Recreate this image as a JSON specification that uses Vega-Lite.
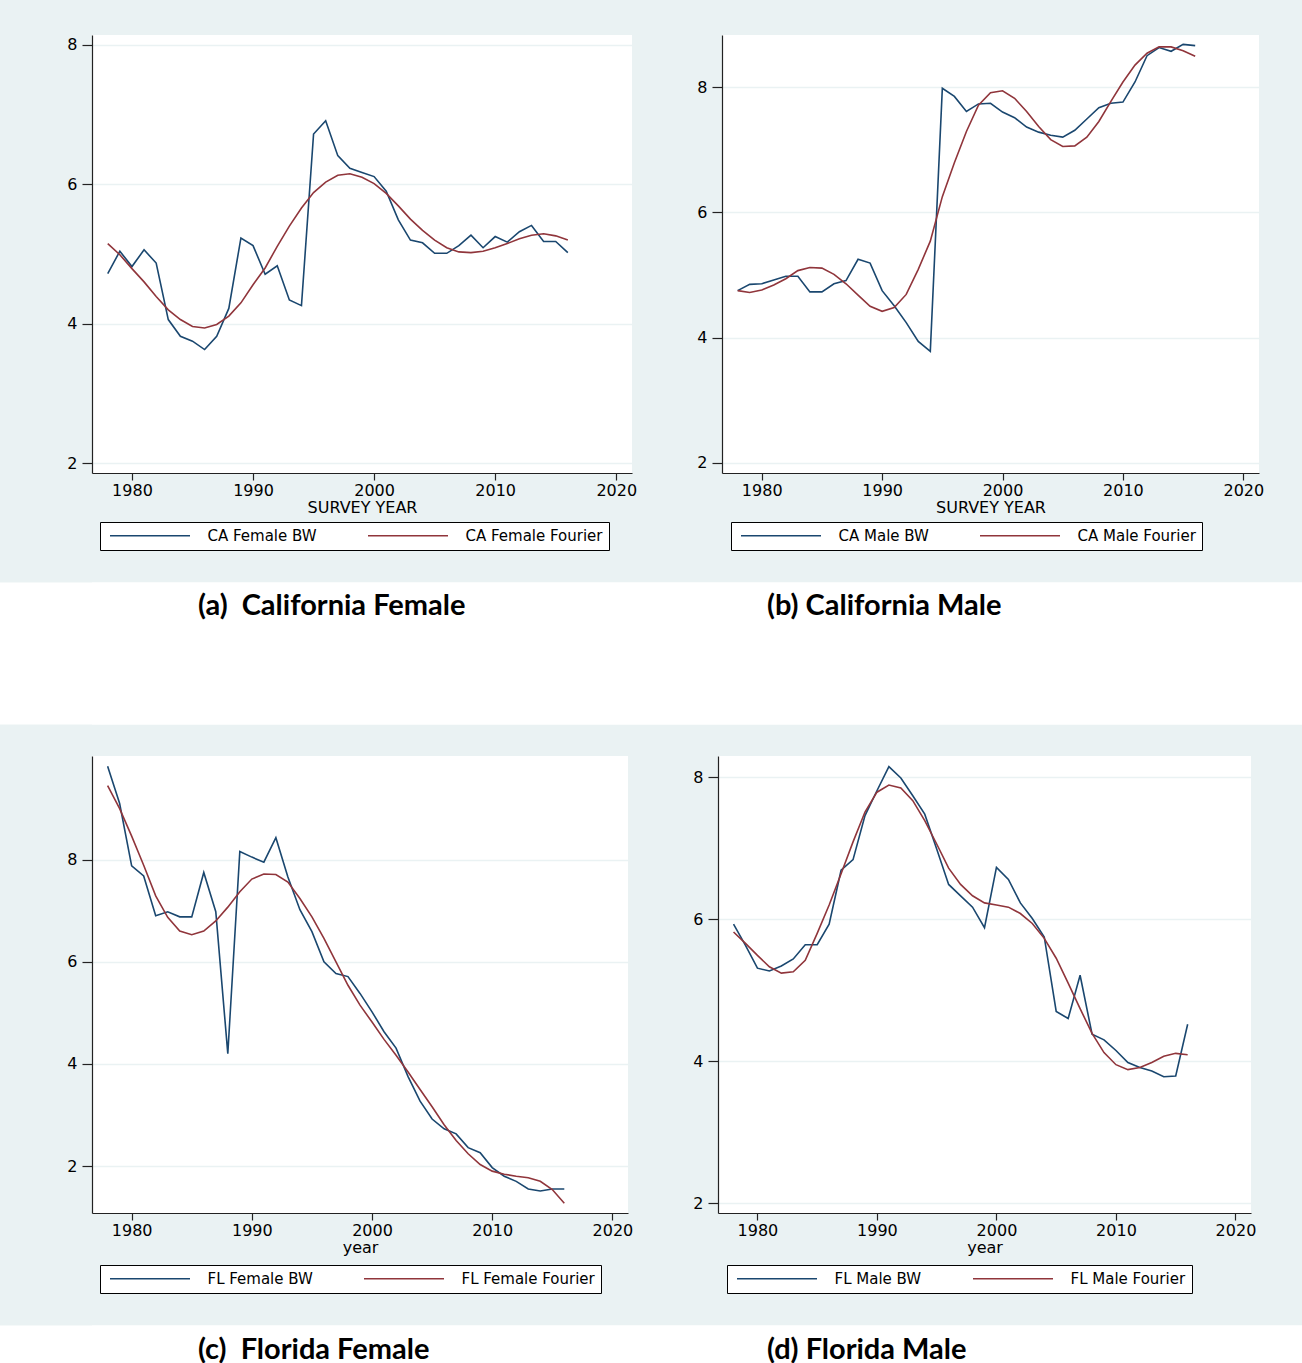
{
  "$schema": "https://vega.github.io/schema/vega-lite/v6.json",
  "background": "#EAF2F3",
  "padding": {"top": 35, "left": 0, "right": 0, "bottom": 0},
  "columns": 1,
  "align": "none",
  "spacing": 31.5,
  "resolve": {"scale": {"color": "independent"}, "legend": {"color": "independent"}},
  "config": {
    "font": "DejaVu Sans",
    "view": {"fill": "white", "stroke": null},
    "axis": {
      "domainColor": "#222", "domainWidth": 1.2,
      "tickColor": "#222", "tickWidth": 1.2,
      "labelFont": "DejaVu Sans", "labelFontSize": 16, "labelColor": "#000",
      "titleFont": "DejaVu Sans", "titleFontSize": 16, "titleFontWeight": "normal", "titleColor": "#000",
      "gridColor": "#EAF2F3", "gridWidth": 1.5, "labelFlush": false, "labelOverlap": false
    },
    "axisX": {"tickSize": 7, "labelPadding": 2, "titlePadding": 1, "grid": false},
    "axisY": {"tickSize": 10, "labelPadding": 5, "grid": true, "minExtent": 92},
    "legend": {
      "labelFont": "DejaVu Sans", "labelFontSize": 15, "labelColor": "#000",
      "symbolSize": 100, "symbolStrokeWidth": 1.6,
      "symbolOffset": 36.5, "labelOffset": 50, "columnPadding": 47, "padding": 6,
      "strokeColor": "#000", "fillColor": "white", "cornerRadius": 0, "rowPadding": 0,
      "labelLimit": 300
    }
  },
  "datasets": {
    "caf": [
      {"year": 1978, "CA Female BW": 4.72, "CA Female Fourier": 5.15},
      {"year": 1979, "CA Female BW": 5.04, "CA Female Fourier": 4.99},
      {"year": 1980, "CA Female BW": 4.82, "CA Female Fourier": 4.79},
      {"year": 1981, "CA Female BW": 5.06, "CA Female Fourier": 4.60},
      {"year": 1982, "CA Female BW": 4.87, "CA Female Fourier": 4.39},
      {"year": 1983, "CA Female BW": 4.06, "CA Female Fourier": 4.20},
      {"year": 1984, "CA Female BW": 3.82, "CA Female Fourier": 4.06},
      {"year": 1985, "CA Female BW": 3.75, "CA Female Fourier": 3.96},
      {"year": 1986, "CA Female BW": 3.63, "CA Female Fourier": 3.94},
      {"year": 1987, "CA Female BW": 3.82, "CA Female Fourier": 3.99},
      {"year": 1988, "CA Female BW": 4.22, "CA Female Fourier": 4.11},
      {"year": 1989, "CA Female BW": 5.23, "CA Female Fourier": 4.30},
      {"year": 1990, "CA Female BW": 5.12, "CA Female Fourier": 4.56},
      {"year": 1991, "CA Female BW": 4.71, "CA Female Fourier": 4.80},
      {"year": 1992, "CA Female BW": 4.83, "CA Female Fourier": 5.11},
      {"year": 1993, "CA Female BW": 4.34, "CA Female Fourier": 5.40},
      {"year": 1994, "CA Female BW": 4.26, "CA Female Fourier": 5.66},
      {"year": 1995, "CA Female BW": 6.72, "CA Female Fourier": 5.88},
      {"year": 1996, "CA Female BW": 6.91, "CA Female Fourier": 6.03},
      {"year": 1997, "CA Female BW": 6.41, "CA Female Fourier": 6.13},
      {"year": 1998, "CA Female BW": 6.23, "CA Female Fourier": 6.15},
      {"year": 1999, "CA Female BW": 6.17, "CA Female Fourier": 6.10},
      {"year": 2000, "CA Female BW": 6.11, "CA Female Fourier": 6.01},
      {"year": 2001, "CA Female BW": 5.90, "CA Female Fourier": 5.87},
      {"year": 2002, "CA Female BW": 5.49, "CA Female Fourier": 5.69},
      {"year": 2003, "CA Female BW": 5.20, "CA Female Fourier": 5.50},
      {"year": 2004, "CA Female BW": 5.16, "CA Female Fourier": 5.34},
      {"year": 2005, "CA Female BW": 5.01, "CA Female Fourier": 5.20},
      {"year": 2006, "CA Female BW": 5.01, "CA Female Fourier": 5.09},
      {"year": 2007, "CA Female BW": 5.12, "CA Female Fourier": 5.03},
      {"year": 2008, "CA Female BW": 5.27, "CA Female Fourier": 5.02},
      {"year": 2009, "CA Female BW": 5.09, "CA Female Fourier": 5.04},
      {"year": 2010, "CA Female BW": 5.25, "CA Female Fourier": 5.09},
      {"year": 2011, "CA Female BW": 5.17, "CA Female Fourier": 5.15},
      {"year": 2012, "CA Female BW": 5.32, "CA Female Fourier": 5.22},
      {"year": 2013, "CA Female BW": 5.41, "CA Female Fourier": 5.27},
      {"year": 2014, "CA Female BW": 5.18, "CA Female Fourier": 5.29},
      {"year": 2015, "CA Female BW": 5.18, "CA Female Fourier": 5.26},
      {"year": 2016, "CA Female BW": 5.02, "CA Female Fourier": 5.20}
    ],
    "cam": [
      {"year": 1978, "CA Male BW": 4.75, "CA Male Fourier": 4.75},
      {"year": 1979, "CA Male BW": 4.85, "CA Male Fourier": 4.72},
      {"year": 1980, "CA Male BW": 4.86, "CA Male Fourier": 4.76},
      {"year": 1981, "CA Male BW": 4.92, "CA Male Fourier": 4.84},
      {"year": 1982, "CA Male BW": 4.98, "CA Male Fourier": 4.94},
      {"year": 1983, "CA Male BW": 4.98, "CA Male Fourier": 5.07},
      {"year": 1984, "CA Male BW": 4.73, "CA Male Fourier": 5.12},
      {"year": 1985, "CA Male BW": 4.73, "CA Male Fourier": 5.11},
      {"year": 1986, "CA Male BW": 4.86, "CA Male Fourier": 5.01},
      {"year": 1987, "CA Male BW": 4.91, "CA Male Fourier": 4.86},
      {"year": 1988, "CA Male BW": 5.25, "CA Male Fourier": 4.68},
      {"year": 1989, "CA Male BW": 5.19, "CA Male Fourier": 4.50},
      {"year": 1990, "CA Male BW": 4.75, "CA Male Fourier": 4.42},
      {"year": 1991, "CA Male BW": 4.51, "CA Male Fourier": 4.48},
      {"year": 1992, "CA Male BW": 4.24, "CA Male Fourier": 4.69},
      {"year": 1993, "CA Male BW": 3.94, "CA Male Fourier": 5.09},
      {"year": 1994, "CA Male BW": 3.78, "CA Male Fourier": 5.54},
      {"year": 1995, "CA Male BW": 7.98, "CA Male Fourier": 6.25},
      {"year": 1996, "CA Male BW": 7.85, "CA Male Fourier": 6.79},
      {"year": 1997, "CA Male BW": 7.61, "CA Male Fourier": 7.29},
      {"year": 1998, "CA Male BW": 7.73, "CA Male Fourier": 7.71},
      {"year": 1999, "CA Male BW": 7.74, "CA Male Fourier": 7.91},
      {"year": 2000, "CA Male BW": 7.60, "CA Male Fourier": 7.94},
      {"year": 2001, "CA Male BW": 7.51, "CA Male Fourier": 7.82},
      {"year": 2002, "CA Male BW": 7.36, "CA Male Fourier": 7.61},
      {"year": 2003, "CA Male BW": 7.28, "CA Male Fourier": 7.37},
      {"year": 2004, "CA Male BW": 7.23, "CA Male Fourier": 7.16},
      {"year": 2005, "CA Male BW": 7.20, "CA Male Fourier": 7.05},
      {"year": 2006, "CA Male BW": 7.31, "CA Male Fourier": 7.06},
      {"year": 2007, "CA Male BW": 7.49, "CA Male Fourier": 7.20},
      {"year": 2008, "CA Male BW": 7.67, "CA Male Fourier": 7.45},
      {"year": 2009, "CA Male BW": 7.74, "CA Male Fourier": 7.77},
      {"year": 2010, "CA Male BW": 7.76, "CA Male Fourier": 8.08},
      {"year": 2011, "CA Male BW": 8.08, "CA Male Fourier": 8.35},
      {"year": 2012, "CA Male BW": 8.50, "CA Male Fourier": 8.54},
      {"year": 2013, "CA Male BW": 8.63, "CA Male Fourier": 8.64},
      {"year": 2014, "CA Male BW": 8.57, "CA Male Fourier": 8.64},
      {"year": 2015, "CA Male BW": 8.68, "CA Male Fourier": 8.58},
      {"year": 2016, "CA Male BW": 8.66, "CA Male Fourier": 8.49}
    ],
    "flf": [
      {"year": 1978, "FL Female BW": 9.83, "FL Female Fourier": 9.45},
      {"year": 1979, "FL Female BW": 9.10, "FL Female Fourier": 9.00},
      {"year": 1980, "FL Female BW": 7.88, "FL Female Fourier": 8.46},
      {"year": 1981, "FL Female BW": 7.68, "FL Female Fourier": 7.89},
      {"year": 1982, "FL Female BW": 6.90, "FL Female Fourier": 7.29},
      {"year": 1983, "FL Female BW": 6.98, "FL Female Fourier": 6.87},
      {"year": 1984, "FL Female BW": 6.88, "FL Female Fourier": 6.60},
      {"year": 1985, "FL Female BW": 6.88, "FL Female Fourier": 6.53},
      {"year": 1986, "FL Female BW": 7.75, "FL Female Fourier": 6.60},
      {"year": 1987, "FL Female BW": 6.98, "FL Female Fourier": 6.80},
      {"year": 1988, "FL Female BW": 4.20, "FL Female Fourier": 7.07},
      {"year": 1989, "FL Female BW": 8.16, "FL Female Fourier": 7.37},
      {"year": 1990, "FL Female BW": 8.05, "FL Female Fourier": 7.62},
      {"year": 1991, "FL Female BW": 7.95, "FL Female Fourier": 7.72},
      {"year": 1992, "FL Female BW": 8.43, "FL Female Fourier": 7.71},
      {"year": 1993, "FL Female BW": 7.66, "FL Female Fourier": 7.56},
      {"year": 1994, "FL Female BW": 7.02, "FL Female Fourier": 7.24},
      {"year": 1995, "FL Female BW": 6.59, "FL Female Fourier": 6.88},
      {"year": 1996, "FL Female BW": 6.00, "FL Female Fourier": 6.46},
      {"year": 1997, "FL Female BW": 5.77, "FL Female Fourier": 6.00},
      {"year": 1998, "FL Female BW": 5.71, "FL Female Fourier": 5.54},
      {"year": 1999, "FL Female BW": 5.38, "FL Female Fourier": 5.15},
      {"year": 2000, "FL Female BW": 5.02, "FL Female Fourier": 4.82},
      {"year": 2001, "FL Female BW": 4.63, "FL Female Fourier": 4.48},
      {"year": 2002, "FL Female BW": 4.31, "FL Female Fourier": 4.17},
      {"year": 2003, "FL Female BW": 3.75, "FL Female Fourier": 3.84},
      {"year": 2004, "FL Female BW": 3.27, "FL Female Fourier": 3.50},
      {"year": 2005, "FL Female BW": 2.92, "FL Female Fourier": 3.16},
      {"year": 2006, "FL Female BW": 2.73, "FL Female Fourier": 2.81},
      {"year": 2007, "FL Female BW": 2.63, "FL Female Fourier": 2.50},
      {"year": 2008, "FL Female BW": 2.36, "FL Female Fourier": 2.24},
      {"year": 2009, "FL Female BW": 2.26, "FL Female Fourier": 2.03},
      {"year": 2010, "FL Female BW": 1.97, "FL Female Fourier": 1.90},
      {"year": 2011, "FL Female BW": 1.80, "FL Female Fourier": 1.84},
      {"year": 2012, "FL Female BW": 1.70, "FL Female Fourier": 1.80},
      {"year": 2013, "FL Female BW": 1.55, "FL Female Fourier": 1.77},
      {"year": 2014, "FL Female BW": 1.51, "FL Female Fourier": 1.70},
      {"year": 2015, "FL Female BW": 1.55, "FL Female Fourier": 1.54},
      {"year": 2016, "FL Female BW": 1.55, "FL Female Fourier": 1.27}
    ],
    "flm": [
      {"year": 1978, "FL Male BW": 5.93, "FL Male Fourier": 5.82},
      {"year": 1979, "FL Male BW": 5.63, "FL Male Fourier": 5.66},
      {"year": 1980, "FL Male BW": 5.31, "FL Male Fourier": 5.49},
      {"year": 1981, "FL Male BW": 5.27, "FL Male Fourier": 5.33},
      {"year": 1982, "FL Male BW": 5.34, "FL Male Fourier": 5.24},
      {"year": 1983, "FL Male BW": 5.44, "FL Male Fourier": 5.26},
      {"year": 1984, "FL Male BW": 5.64, "FL Male Fourier": 5.42},
      {"year": 1985, "FL Male BW": 5.64, "FL Male Fourier": 5.80},
      {"year": 1986, "FL Male BW": 5.93, "FL Male Fourier": 6.20},
      {"year": 1987, "FL Male BW": 6.69, "FL Male Fourier": 6.64},
      {"year": 1988, "FL Male BW": 6.84, "FL Male Fourier": 7.09},
      {"year": 1989, "FL Male BW": 7.46, "FL Male Fourier": 7.51},
      {"year": 1990, "FL Male BW": 7.81, "FL Male Fourier": 7.79},
      {"year": 1991, "FL Male BW": 8.15, "FL Male Fourier": 7.89},
      {"year": 1992, "FL Male BW": 7.99, "FL Male Fourier": 7.85},
      {"year": 1993, "FL Male BW": 7.74, "FL Male Fourier": 7.67},
      {"year": 1994, "FL Male BW": 7.48, "FL Male Fourier": 7.39},
      {"year": 1995, "FL Male BW": 6.99, "FL Male Fourier": 7.06},
      {"year": 1996, "FL Male BW": 6.49, "FL Male Fourier": 6.72},
      {"year": 1997, "FL Male BW": 6.33, "FL Male Fourier": 6.49},
      {"year": 1998, "FL Male BW": 6.17, "FL Male Fourier": 6.33},
      {"year": 1999, "FL Male BW": 5.88, "FL Male Fourier": 6.23},
      {"year": 2000, "FL Male BW": 6.73, "FL Male Fourier": 6.20},
      {"year": 2001, "FL Male BW": 6.56, "FL Male Fourier": 6.17},
      {"year": 2002, "FL Male BW": 6.23, "FL Male Fourier": 6.08},
      {"year": 2003, "FL Male BW": 6.01, "FL Male Fourier": 5.94},
      {"year": 2004, "FL Male BW": 5.75, "FL Male Fourier": 5.73},
      {"year": 2005, "FL Male BW": 4.70, "FL Male Fourier": 5.45},
      {"year": 2006, "FL Male BW": 4.60, "FL Male Fourier": 5.10},
      {"year": 2007, "FL Male BW": 5.21, "FL Male Fourier": 4.74},
      {"year": 2008, "FL Male BW": 4.38, "FL Male Fourier": 4.39},
      {"year": 2009, "FL Male BW": 4.30, "FL Male Fourier": 4.12},
      {"year": 2010, "FL Male BW": 4.15, "FL Male Fourier": 3.95},
      {"year": 2011, "FL Male BW": 3.98, "FL Male Fourier": 3.88},
      {"year": 2012, "FL Male BW": 3.91, "FL Male Fourier": 3.91},
      {"year": 2013, "FL Male BW": 3.86, "FL Male Fourier": 3.98},
      {"year": 2014, "FL Male BW": 3.78, "FL Male Fourier": 4.07},
      {"year": 2015, "FL Male BW": 3.79, "FL Male Fourier": 4.11},
      {"year": 2016, "FL Male BW": 4.52, "FL Male Fourier": 4.09}
    ],
    "cap1": [{"c": "(a)\u00a0 California Female", "d": "(b) California Male"}],
    "cap2": [{"c": "(c)\u00a0 Florida Female", "d": "(d) Florida Male"}]
  },
  "concat": [
    {
      "hconcat": [
        {
          "width": 540, "height": 438,
          "data": {"name": "caf"},
          "transform": [{"fold": ["CA Female BW", "CA Female Fourier"], "as": ["series", "value"]}],
          "mark": {"type": "line", "strokeWidth": 1.6},
          "encoding": {
            "x": {"field": "year", "type": "quantitative", "scale": {"domain": [1976.7, 2021.3], "nice": false, "zero": false}, "axis": {"values": [1980, 1990, 2000, 2010, 2020], "format": "d", "title": "SURVEY YEAR"}},
            "y": {"field": "value", "type": "quantitative", "scale": {"domain": [1.86, 8.14], "nice": false, "zero": false}, "axis": {"values": [2, 4, 6, 8], "title": null}},
            "color": {"field": "series", "type": "nominal", "scale": {"domain": ["CA Female BW", "CA Female Fourier"], "range": ["#1A476F", "#90353B"]}, "legend": {"orient": "none", "legendX": 8, "legendY": 487, "title": null, "columns": 2, "symbolType": "M-8,0H8"}}
          }
        },
        {
          "width": 537, "height": 438,
          "data": {"name": "cam"},
          "transform": [{"fold": ["CA Male BW", "CA Male Fourier"], "as": ["series", "value"]}],
          "mark": {"type": "line", "strokeWidth": 1.6},
          "encoding": {
            "x": {"field": "year", "type": "quantitative", "scale": {"domain": [1976.7, 2021.3], "nice": false, "zero": false}, "axis": {"values": [1980, 1990, 2000, 2010, 2020], "format": "d", "title": "SURVEY YEAR"}},
            "y": {"field": "value", "type": "quantitative", "scale": {"domain": [1.84, 8.83], "nice": false, "zero": false}, "axis": {"values": [2, 4, 6, 8], "title": null}},
            "color": {"field": "series", "type": "nominal", "scale": {"domain": ["CA Male BW", "CA Male Fourier"], "range": ["#1A476F", "#90353B"]}, "legend": {"orient": "none", "legendX": 9, "legendY": 487, "title": null, "columns": 2, "symbolType": "M-8,0H8"}}
          }
        }
      ],
      "spacing": 90,
      "bounds": "flush",
      "resolve": {"scale": {"color": "independent"}, "legend": {"color": "independent"}}
    },
    {
      "width": 1210, "height": 142,
      "view": {"fill": "white", "stroke": null},
      "data": {"name": "cap1"},
      "layer": [
        {"mark": {"type": "rect", "fill": "white", "stroke": null, "xOffset": -92}, "encoding": {"x": {"value": 0}, "x2": {"value": "width"}}},
        {"mark": {"type": "text", "font": "Lato", "fontWeight": "bold", "fontSize": 29, "align": "left", "dx": -499, "dy": -47.5, "color": "#000"}, "encoding": {"text": {"field": "c"}}},
        {"mark": {"type": "text", "font": "Lato", "fontWeight": "bold", "fontSize": 29, "align": "left", "dx": 70, "dy": -47.5, "color": "#000"}, "encoding": {"text": {"field": "d"}}}
      ]
    },
    {
      "hconcat": [
        {
          "width": 536, "height": 457,
          "data": {"name": "flf"},
          "transform": [{"fold": ["FL Female BW", "FL Female Fourier"], "as": ["series", "value"]}],
          "mark": {"type": "line", "strokeWidth": 1.6},
          "encoding": {
            "x": {"field": "year", "type": "quantitative", "scale": {"domain": [1976.7, 2021.3], "nice": false, "zero": false}, "axis": {"values": [1980, 1990, 2000, 2010, 2020], "format": "d", "title": "year"}},
            "y": {"field": "value", "type": "quantitative", "scale": {"domain": [1.08, 10.03], "nice": false, "zero": false}, "axis": {"values": [2, 4, 6, 8], "title": null}},
            "color": {"field": "series", "type": "nominal", "scale": {"domain": ["FL Female BW", "FL Female Fourier"], "range": ["#1A476F", "#90353B"]}, "legend": {"orient": "none", "legendX": 8, "legendY": 509, "title": null, "columns": 2, "symbolType": "M-8,0H8"}}
          }
        },
        {
          "width": 533, "height": 457,
          "data": {"name": "flm"},
          "transform": [{"fold": ["FL Male BW", "FL Male Fourier"], "as": ["series", "value"]}],
          "mark": {"type": "line", "strokeWidth": 1.6},
          "encoding": {
            "x": {"field": "year", "type": "quantitative", "scale": {"domain": [1976.7, 2021.3], "nice": false, "zero": false}, "axis": {"values": [1980, 1990, 2000, 2010, 2020], "format": "d", "title": "year"}},
            "y": {"field": "value", "type": "quantitative", "scale": {"domain": [1.86, 8.3], "nice": false, "zero": false}, "axis": {"values": [2, 4, 6, 8], "title": null}},
            "color": {"field": "series", "type": "nominal", "scale": {"domain": ["FL Male BW", "FL Male Fourier"], "range": ["#1A476F", "#90353B"]}, "legend": {"orient": "none", "legendX": 9, "legendY": 509, "title": null, "columns": 2, "symbolType": "M-8,0H8"}}
          }
        }
      ],
      "spacing": 90,
      "bounds": "flush",
      "resolve": {"scale": {"color": "independent"}, "legend": {"color": "independent"}}
    },
    {
      "width": 1210, "height": 41.5,
      "view": {"fill": "white", "stroke": null},
      "data": {"name": "cap2"},
      "layer": [
        {"mark": {"type": "rect", "fill": "white", "stroke": null, "xOffset": -92}, "encoding": {"x": {"value": 0}, "x2": {"value": "width"}}},
        {"mark": {"type": "text", "font": "Lato", "fontWeight": "bold", "fontSize": 29, "align": "left", "dx": -499, "dy": 3.75, "color": "#000"}, "encoding": {"text": {"field": "c"}}},
        {"mark": {"type": "text", "font": "Lato", "fontWeight": "bold", "fontSize": 29, "align": "left", "dx": 70, "dy": 3.75, "color": "#000"}, "encoding": {"text": {"field": "d"}}}
      ]
    }
  ]
}
